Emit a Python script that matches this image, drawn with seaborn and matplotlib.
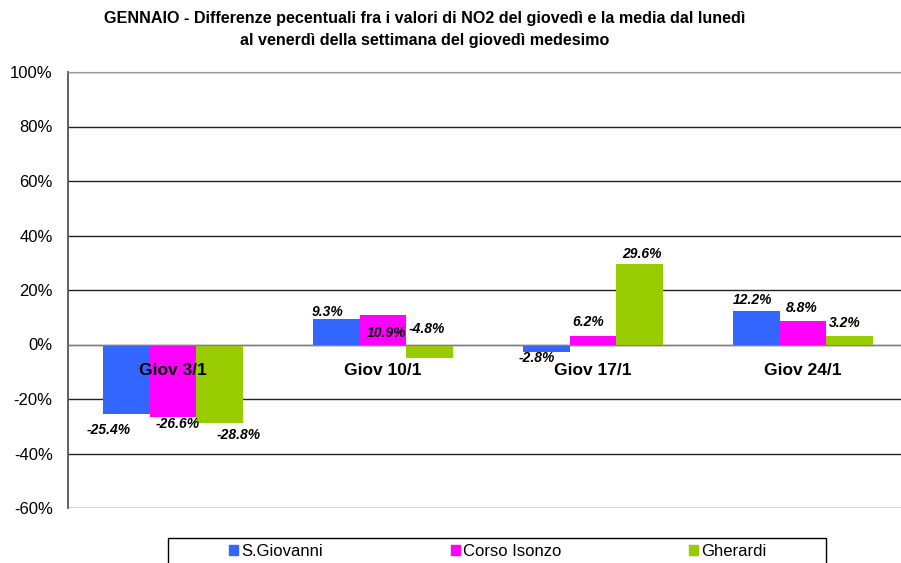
import pandas as pd
import matplotlib
matplotlib.use("Agg")
import matplotlib.pyplot as plt
import seaborn as sns

# dati (differenze % NO2)
giorni = ["Giov 3/1", "Giov 10/1", "Giov 17/1", "Giov 24/1"]
stazioni = ["S.Giovanni", "Corso Isonzo", "Gherardi"]
s_giovanni = [-25.4, 9.3, -2.8, 12.2]
corso_isonzo = [-26.6, 10.9, 3.1, 8.8]
gherardi = [-28.8, -4.8, 29.6, 3.2]

# etichette come stampate sul grafico originale
etichette_s_giovanni = ["-25.4%", "9.3%", "-2.8%", "12.2%"]
etichette_corso_isonzo = ["-26.6%", "10.9%", "6.2%", "8.8%"]
etichette_gherardi = ["-28.8%", "-4.8%", "29.6%", "3.2%"]

colori = ["#3366FF", "#FF00FF", "#99CC00"]
y_ticks = [-60, -40, -20, 0, 20, 40, 60, 80, 100]

df = pd.DataFrame({
    "giorno": giorni * 3,
    "stazione": [s for s in stazioni for _ in giorni],
    "valore": s_giovanni + corso_isonzo + gherardi,
})

sns.set_style("white")
plt.rcParams["font.family"] = ["Liberation Sans", "DejaVu Sans"]
plt.rcParams["text.color"] = "black"
plt.rcParams["xtick.labelcolor"] = "black"
plt.rcParams["ytick.labelcolor"] = "black"

W, H = 901, 563
fig = plt.figure(figsize=(W / 100, H / 100), dpi=100)
ax = fig.add_axes([68 / W, 1 - 508 / H, (908 - 68) / W, (508 - 72) / H])

sns.barplot(data=df, x="giorno", y="valore", hue="stazione", order=giorni,
            hue_order=stazioni, palette=colori, width=0.67, saturation=1,
            errorbar=None, linewidth=0, ax=ax, legend=False)

ax.set_xlim(-0.5, 3.5)
ax.set_ylim(-60, 100)
ax.set_yticks(y_ticks)
ax.set_yticklabels([f"{v}%" for v in y_ticks])
ax.set_xlabel("")
ax.set_ylabel("")

# griglia dietro le barre, etichette categorie sopra
ax.set_axisbelow(True)
ax.yaxis.grid(True, color="#222222", linewidth=1)
ax.xaxis.set_zorder(5)

ax.spines["right"].set_visible(False)
ax.spines["top"].set_color("#999999")
ax.spines["left"].set_color("#555555")
ax.spines["left"].set_linewidth(1.3)
ax.spines["bottom"].set_position(("data", 0))
ax.spines["bottom"].set_color("#808080")

ax.tick_params(axis="y", labelsize=12, length=5, width=1, color="#555555", pad=6)
ax.tick_params(axis="x", which="major", length=0, pad=13)
for t in ax.get_xticklabels():
    t.set_fontsize(12.5)
    t.set_fontweight("bold")
ax.set_xticks([-0.5, 0.5, 1.5, 2.5, 3.5], minor=True)
ax.tick_params(axis="x", which="minor", length=5, width=1, color="#555555",
               direction="out")

# etichette valori (spostamenti in pixel come nell'originale)
spostamenti = [
    [(-17, -16), (-9, 7), (-9, -6), (-4, 11)],
    [(5, -7), (4, -18), (-5, 14), (-1, 13)],
    [(19, -12), (-3, 29), (2, 10), (-5, 13)],
]
etichette = [etichette_s_giovanni, etichette_corso_isonzo, etichette_gherardi]
for cont, labs, offs in zip(ax.containers, etichette, spostamenti):
    for bar, lab, (dx, dy) in zip(cont, labs, offs):
        x = bar.get_x() + bar.get_width() / 2
        v = bar.get_y() + bar.get_height()
        ax.annotate(lab, (x, v), xytext=(dx, dy), textcoords="offset pixels",
                    ha="center", va="center", fontsize=10, fontweight="bold",
                    fontstyle="italic", zorder=6)

fig.text(425 / W, 1 - 18 / H,
         "GENNAIO - Differenze pecentuali fra i valori di NO2 del giovedì e la media dal lunedì",
         ha="center", va="center", fontsize=11.6, fontweight="bold")
fig.text(425 / W, 1 - 40 / H, "al venerdì della settimana del giovedì medesimo",
         ha="center", va="center", fontsize=11.6, fontweight="bold")

# legenda: riquadro disegnato a parte, voci centrate
fig.patches.append(plt.Rectangle((168 / W, -0.05), (826 - 168) / W,
                                 1 - 538 / H + 0.05, transform=fig.transFigure,
                                 fill=False, edgecolor="black", linewidth=1))
handles = [plt.Rectangle((0, 0), 1, 1, color=c) for c in colori]
fig.legend(handles, stazioni, loc="center", ncol=3,
           bbox_to_anchor=(498 / W, 1 - 551 / H),
           fontsize=12, frameon=False, handlelength=0.55, handleheight=0.55,
           handletextpad=0.2, columnspacing=7.65, borderpad=0, borderaxespad=0)

fig.savefig("out.png", dpi=100)
